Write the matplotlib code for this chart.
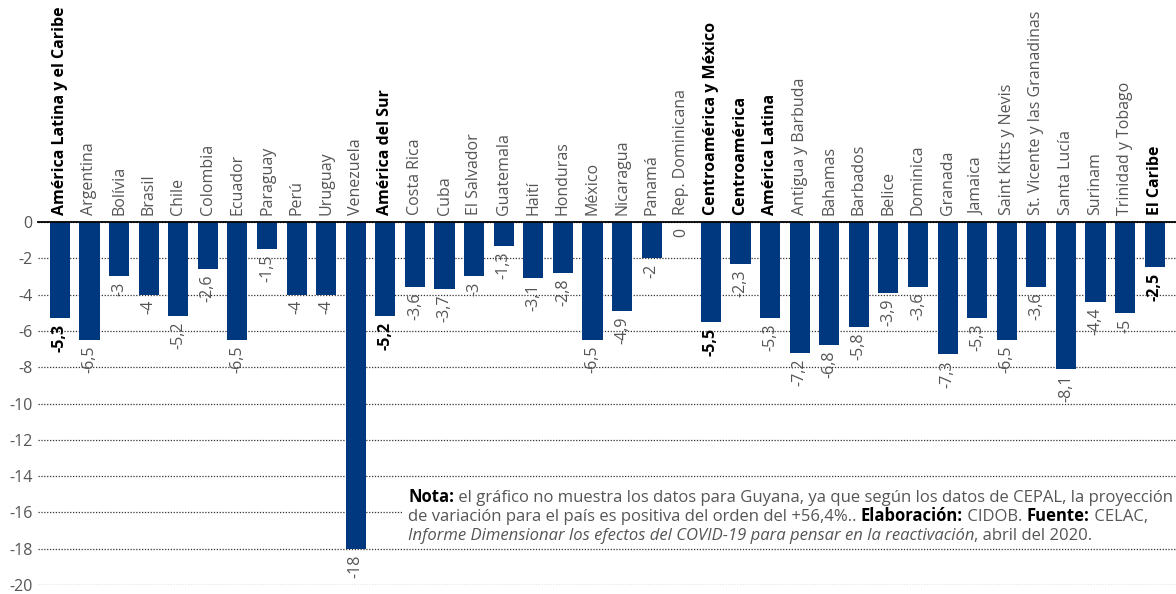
import matplotlib
matplotlib.use("Agg")
import matplotlib.pyplot as plt
from matplotlib.patches import Rectangle

categories = [
    "América Latina y el Caribe", "Argentina", "Bolívia", "Brasil", "Chile", "Colombia",
    "Ecuador", "Paraguay", "Perú", "Uruguay", "Venezuela", "América del Sur",
    "Costa Rica", "Cuba", "El Salvador", "Guatemala", "Haití", "Honduras", "México",
    "Nicaragua", "Panamá", "Rep. Dominicana", "Centroamérica y México", "Centroamérica",
    "América Latina", "Antigua y Barbuda", "Bahamas", "Barbados", "Belice", "Dominica",
    "Granada", "Jamaica", "Saint Kitts y Nevis", "St. Vicente y las Granadinas",
    "Santa Lucía", "Surinam", "Trinidad y Tobago", "El Caribe",
]
values = [
    -5.3, -6.5, -3, -4, -5.2, -2.6, -6.5, -1.5, -4, -4, -18, -5.2,
    -3.6, -3.7, -3, -1.3, -3.1, -2.8, -6.5, -4.9, -2, 0, -5.5, -2.3,
    -5.3, -7.2, -6.8, -5.8, -3.9, -3.6, -7.3, -5.3, -6.5, -3.6, -8.1, -4.4, -5, -2.5,
]
bold_categories = ["América Latina y el Caribe", "América del Sur", "Centroamérica y México",
                   "Centroamérica", "América Latina", "El Caribe"]
bold_values = ["América Latina y el Caribe", "América del Sur", "Centroamérica y México",
               "El Caribe"]
yticks = [0, -2, -4, -6, -8, -10, -12, -14, -16, -18, -20]

BAR = "#00387f"
GRAY = "#555555"
FONT = ["Open Sans", "DejaVu Sans"]
plt.rcParams["font.family"] = FONT
FS = 11.5
NFS = 12

W, H = 1176, 594
fig = plt.figure(figsize=(W / 100, H / 100), dpi=100)
ax = fig.add_axes([38 / W, 9 / H, (W - 38) / W, (585 - 222) / H])

x = list(range(len(categories)))
ax.bar(x, values, width=0.68, color=BAR, zorder=3)
ax.set_xlim(-0.74, len(categories) - 1 + 0.72)
ax.set_ylim(-20, 0)

for s in ax.spines.values():
    s.set_visible(False)
ax.axhline(0, color="black", lw=1.3, zorder=4, clip_on=False)

ax.set_yticks(yticks)
ax.set_yticklabels([str(t) for t in yticks], color=GRAY, fontsize=FS)
for lab in ax.get_yticklabels():
    lab.set_verticalalignment("center_baseline")
ax.tick_params(axis="y", length=0, pad=4)
ax.yaxis.grid(True, linestyle=(0, (1, 1.3)), color="#333333", lw=0.9, zorder=0)
ax.set_axisbelow(True)

ax.xaxis.tick_top()
ax.set_xticks(x)
ax.set_xticklabels(categories, rotation=90, fontsize=FS)
ax.tick_params(axis="x", length=0, pad=5)
for lab in ax.get_xticklabels():
    if lab.get_text() in bold_categories:
        lab.set_fontweight("bold")
        lab.set_color("black")
    else:
        lab.set_color(GRAY)

for i, (c, v) in enumerate(zip(categories, values)):
    txt = f"{v:g}".replace(".", ",")
    bold = c in bold_values
    ax.annotate(txt, (i, v), xytext=(0, -4), textcoords="offset points",
                rotation=90, ha="center", va="top", fontsize=FS,
                fontweight="bold" if bold else "normal",
                color="black" if bold else GRAY, zorder=5)

# white box behind note
ax.add_patch(Rectangle((11.6, -17.75), 27, 3.4, facecolor="white", edgecolor="none", zorder=1))

lines = [
    [("Nota:", "bold", "normal"),
     (" el gráfico no muestra los datos para Guyana, ya que según los datos de CEPAL, la proyección", "normal", "normal")],
    [("de variación para el país es positiva del orden del +56,4%.. ", "normal", "normal"),
     ("Elaboración:", "bold", "normal"), (" CIDOB. ", "normal", "normal"),
     ("Fuente:", "bold", "normal"), (" CELAC,", "normal", "normal")],
    [("Informe Dimensionar los efectos del COVID-19 para pensar en la reactivación", "normal", "italic"),
     (", abril del 2020.", "normal", "normal")],
]
x0 = 408 / W
ys = [1 - 506 / H, 1 - 525 / H, 1 - 544 / H]
for segs, yy in zip(lines, ys):
    prev = None
    for s, wgt, sty in segs:
        col = "black" if wgt == "bold" else GRAY
        if prev is None:
            prev = fig.text(x0, yy, s, fontsize=NFS, fontweight=wgt, fontstyle=sty,
                            color=col, ha="left", va="bottom", zorder=6)
        else:
            prev = ax.annotate(
                s, xy=(1, 0), xycoords=prev, xytext=(0, 0), textcoords="offset points",
                fontsize=NFS, fontweight=wgt, fontstyle=sty, color=col,
                ha="left", va="bottom", zorder=6, annotation_clip=False)

fig.savefig("out.png", dpi=100)
